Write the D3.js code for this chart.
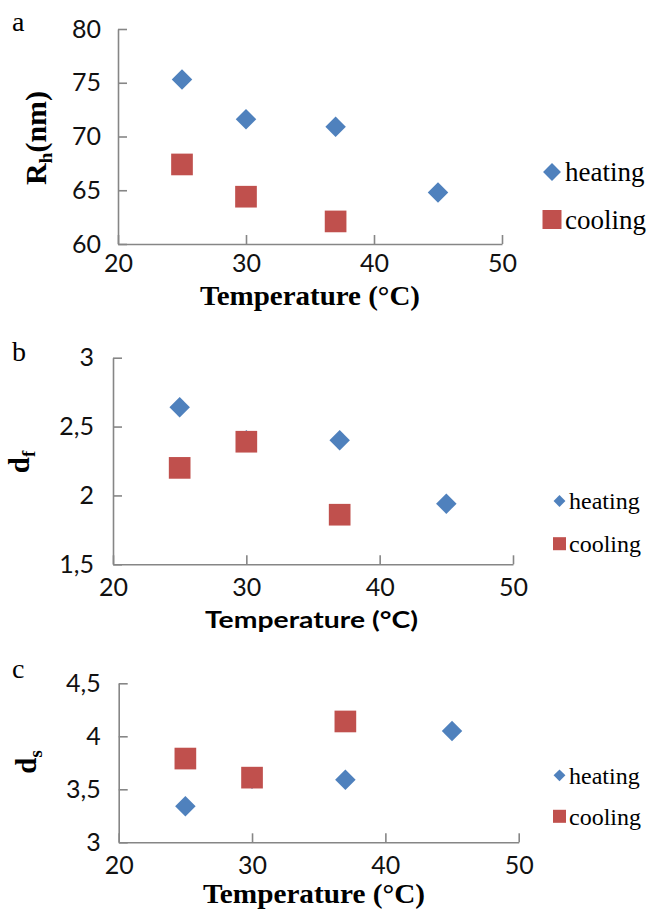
<!DOCTYPE html>
<html>
<head>
<meta charset="utf-8">
<script src="https://cdn.jsdelivr.net/npm/d3@7"></script>
<style>
  body { margin: 0; background: #fff; }
  svg { display: block; }
</style>
</head>
<body>
<div id="chart"></div>
<script>
// temperatures (°C)
const heatingTemps = [25, 30, 37, 45];
const coolingTemps = [25, 30, 37];

// panel a: Rh (nm)
const rhHeating = [75.3, 71.6, 70.9, 64.8];
const rhCooling = [67.4, 64.4, 62.1];
// panel b: df
const dfHeating = [2.64, 2.40, 2.40, 1.94];
const dfCooling = [2.20, 2.39, 1.86];
// panel c: ds
const dsHeating = [3.34, 3.60, 3.59, 4.05];
const dsCooling = [3.79, 3.61, 4.14];

const xTicks = [20, 30, 40, 50];
const rhTicks = [60, 65, 70, 75, 80];
const dfTicks = [1.5, 2, 2.5, 3];
const dsTicks = [3, 3.5, 4, 4.5];

const blue = "#4F81BD", red = "#C0504D", axisGrey = "#868686";
const serif = "'Liberation Serif', 'Times New Roman', serif";
const sans = "Lato, 'Open Sans', sans-serif";

const svg = d3.select("#chart").append("svg")
    .attr("width", 654)
    .attr("height", 913);

const fmt = d => String(d).replace(".", ",");

function drawPanel(p) {
  const x = d3.scaleLinear().domain([20, 50]).range([p.left, p.right]);
  const y = d3.scaleLinear().domain(p.yDomain).range([p.bottom, p.top]);

  const xAxis = svg.append("g")
      .attr("transform", `translate(0,${p.bottom})`)
      .call(d3.axisBottom(x).tickValues(xTicks).tickSizeInner(-9).tickSizeOuter(0).tickPadding(p.xPad));
  const yAxis = svg.append("g")
      .attr("transform", `translate(${p.left},0)`)
      .call(d3.axisLeft(y).tickValues(p.yTicks).tickFormat(fmt).tickSizeInner(-9).tickSizeOuter(0).tickPadding(p.yPad));

  [xAxis, yAxis].forEach(g => {
    g.select(".domain").attr("stroke", axisGrey).attr("stroke-width", 1.6);
    g.selectAll(".tick line").attr("stroke", axisGrey).attr("stroke-width", 1.6);
    g.selectAll(".tick text")
        .attr("font-family", sans)
        .attr("font-size", 25)
        .attr("fill", "#111");
  });

  // heating drawn first, cooling on top
  svg.append("g").selectAll("path")
    .data(heatingTemps.map((t, i) => [t, p.heating[i]]))
    .enter()
    .append("path")
      .attr("d", d3.symbol().type(d3.symbolSquare).size(210))
      .attr("transform", d => `translate(${x(d[0])},${y(d[1])}) rotate(45)`)
      .attr("fill", blue);

  svg.append("g").selectAll("path")
    .data(coolingTemps.map((t, i) => [t, p.cooling[i]]))
    .enter()
    .append("path")
      .attr("d", d3.symbol().type(d3.symbolSquare).size(470))
      .attr("transform", d => `translate(${x(d[0])},${y(d[1])})`)
      .attr("fill", red);

  // panel letter
  svg.append("text")
      .attr("x", 12)
      .attr("y", p.letterY)
      .attr("font-family", serif)
      .attr("font-size", 28)
      .text(p.letter);

  // x title
  svg.append("text")
      .attr("x", p.titleX)
      .attr("y", p.titleY)
      .attr("text-anchor", "middle")
      .attr("font-family", p.titleFont)
      .attr("font-weight", "bold")
      .attr("font-size", p.titleSize)
      .attr("textLength", p.titleLen)
      .attr("lengthAdjust", "spacingAndGlyphs")
      .text("Temperature (°C)");

  // y title with subscript
  const yt = svg.append("text")
      .attr("transform", `translate(${p.yLabelX},${p.yLabelY}) rotate(-90)`)
      .attr("text-anchor", "middle")
      .attr("font-family", serif)
      .attr("font-weight", "bold")
      .attr("font-size", p.yLabelSize);
  yt.append("tspan").text(p.yMain);
  yt.append("tspan").attr("font-size", p.yLabelSize * 0.65).attr("dy", 6).text(p.ySub);
  if (p.yRest) yt.append("tspan").attr("dy", -6).text(p.yRest);

  // legend
  const lg = svg.append("g");
  lg.append("path")
      .attr("d", d3.symbol().type(d3.symbolSquare).size(p.legDiamond))
      .attr("transform", `translate(${p.legX},${p.legY1}) rotate(45)`)
      .attr("fill", blue);
  lg.append("path")
      .attr("d", d3.symbol().type(d3.symbolSquare).size(p.legSquare))
      .attr("transform", `translate(${p.legX},${p.legY2})`)
      .attr("fill", red);
  lg.append("text")
      .attr("x", p.legTextX)
      .attr("y", p.legY1 + p.legBase)
      .attr("font-family", serif)
      .attr("font-size", p.legSize)
      .text("heating");
  lg.append("text")
      .attr("x", p.legTextX)
      .attr("y", p.legY2 + p.legBase)
      .attr("font-family", serif)
      .attr("font-size", p.legSize)
      .text("cooling");
}

drawPanel({
  heating: rhHeating, cooling: rhCooling, yDomain: [60, 80], yTicks: rhTicks,
  left: 118, right: 502, top: 29, bottom: 244, xPad: 10, yPad: 17,
  letter: "a", letterY: 31,
  titleX: 310, titleY: 305, titleFont: serif, titleSize: 27, titleLen: 220,
  yLabelX: 46, yLabelY: 138, yLabelSize: 30, yMain: "R", ySub: "h", yRest: "(nm)",
  legX: 552, legY1: 172, legY2: 219.5, legTextX: 565, legBase: 9, legSize: 27,
  legDiamond: 160, legSquare: 361
});

drawPanel({
  heating: dfHeating, cooling: dfCooling, yDomain: [1.5, 3], yTicks: dfTicks,
  left: 113, right: 513, top: 357.7, bottom: 564.3, xPad: 14, yPad: 19,
  letter: "b", letterY: 361,
  titleX: 311.5, titleY: 628, titleFont: sans, titleSize: 23, titleLen: 213,
  yLabelX: 29, yLabelY: 462, yLabelSize: 29, yMain: "d", ySub: "f", yRest: "",
  legX: 559.5, legY1: 501, legY2: 543.7, legTextX: 569, legBase: 8, legSize: 24,
  legDiamond: 70, legSquare: 170
});

drawPanel({
  heating: dsHeating, cooling: dsCooling, yDomain: [3, 4.5], yTicks: dsTicks,
  left: 118.7, right: 518.7, top: 683.3, bottom: 842.3, xPad: 14, yPad: 18,
  letter: "c", letterY: 678,
  titleX: 314, titleY: 903, titleFont: serif, titleSize: 27, titleLen: 222,
  yLabelX: 36, yLabelY: 762, yLabelSize: 29, yMain: "d", ySub: "s", yRest: "",
  legX: 559.5, legY1: 775.3, legY2: 816.3, legTextX: 569, legBase: 9, legSize: 24,
  legDiamond: 70, legSquare: 170
});
</script>
</body>
</html>
